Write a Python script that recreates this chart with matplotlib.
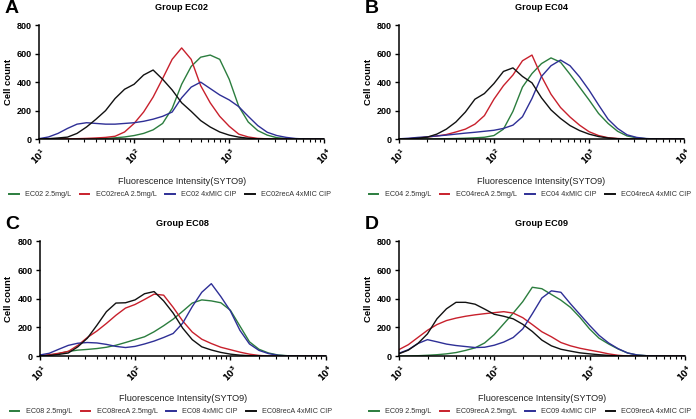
import numpy as np
import matplotlib
matplotlib.use('Agg')
import matplotlib.pyplot as plt

plt.rcParams['font.family'] = ['Liberation Sans', 'DejaVu Sans']
plt.rcParams['mathtext.default'] = 'bf'

# Ось X: log10 интенсивности флуоресценции
log_fl = [1.0, 1.1, 1.2, 1.3, 1.4, 1.5, 1.6, 1.7, 1.8, 1.9, 2.0,
          2.1, 2.2, 2.3, 2.4, 2.5, 2.6, 2.7, 2.8, 2.9, 3.0,
          3.1, 3.2, 3.3, 3.4, 3.5, 3.6, 3.7, 3.8, 3.9, 4.0]

groups = ['EC02', 'EC04', 'EC08', 'EC09']
letters = ['A', 'B', 'C', 'D']
x_ticks = [10, 100, 1000, 10000]
x_tick_labels = ['$10^{1}$', '$10^{2}$', '$10^{3}$', '$10^{4}$']
y_ticks = [0, 200, 400, 600, 800]

# Группа EC02
ec02_25 = [0, 0, 0, 0, 1, 2, 3, 5, 9, 15, 25, 40, 65, 110, 215, 385, 510, 575, 590, 560, 420, 230, 120, 60, 28, 10, 4, 1, 0, 0, 0]
ec02reca_25 = [0, 0, 1, 2, 3, 5, 8, 12, 20, 50, 110, 190, 295, 425, 560, 640, 560, 375, 255, 160, 90, 35, 15, 5, 2, 0, 0, 0, 0, 0, 0]
ec02_cip = [3, 15, 40, 75, 105, 115, 110, 105, 105, 110, 115, 125, 140, 160, 190, 290, 365, 400, 355, 310, 275, 228, 160, 95, 48, 25, 12, 4, 1, 0, 0]
ec02reca_cip = [0, 3, 8, 14, 40, 85, 140, 200, 285, 350, 385, 450, 485, 420, 345, 255, 195, 130, 85, 50, 28, 14, 6, 2, 0, 0, 0, 0, 0, 0, 0]

# Группа EC04
ec04_25 = [0, 0, 1, 1, 2, 3, 4, 6, 9, 13, 25, 70, 195, 365, 460, 530, 570, 540, 455, 365, 275, 180, 110, 55, 22, 9, 3, 1, 0, 0, 0]
ec04reca_25 = [0, 3, 8, 15, 22, 32, 50, 70, 105, 165, 280, 375, 450, 550, 590, 440, 315, 222, 155, 98, 52, 25, 10, 4, 1, 0, 0, 0, 0, 0, 0]
ec04_cip = [2, 6, 12, 16, 22, 28, 35, 42, 48, 55, 62, 75, 98, 157, 285, 440, 515, 555, 515, 437, 344, 240, 140, 75, 30, 12, 4, 1, 0, 0, 0]
ec04reca_cip = [0, 2, 6, 14, 35, 70, 120, 190, 280, 320, 390, 475, 500, 440, 395, 290, 205, 145, 95, 60, 35, 18, 8, 3, 1, 0, 0, 0, 0, 0, 0]

# Группа EC08
ec08_25 = [0, 5, 18, 33, 42, 47, 53, 62, 76, 95, 115, 135, 170, 212, 258, 313, 370, 392, 385, 372, 320, 210, 100, 48, 22, 8, 3, 1, 0, 0, 0]
ec08reca_25 = [3, 10, 20, 33, 75, 130, 175, 228, 285, 335, 360, 395, 432, 425, 340, 245, 168, 118, 88, 62, 45, 28, 14, 5, 1, 0, 0, 0, 0, 0, 0]
ec08_cip = [8, 20, 48, 75, 90, 95, 92, 82, 68, 60, 68, 85, 105, 130, 158, 230, 345, 445, 505, 415, 315, 180, 85, 40, 18, 6, 2, 0, 0, 0, 0]
ec08reca_cip = [2, 5, 12, 22, 65, 125, 215, 310, 370, 372, 392, 435, 450, 385, 300, 195, 115, 65, 43, 26, 14, 7, 3, 1, 0, 0, 0, 0, 0, 0, 0]

# Группа EC09
ec09_25 = [0, 1, 3, 6, 10, 16, 25, 40, 58, 92, 150, 225, 300, 380, 480, 470, 430, 390, 340, 270, 190, 125, 85, 50, 22, 8, 3, 1, 0, 0, 0]
ec09reca_25 = [45, 80, 130, 180, 220, 248, 265, 278, 288, 296, 303, 310, 300, 268, 220, 170, 135, 95, 72, 55, 42, 30, 16, 6, 1, 0, 0, 0, 0, 0, 0]
ec09_cip = [20, 45, 88, 115, 100, 84, 74, 67, 60, 62, 76, 98, 130, 190, 295, 405, 455, 445, 365, 290, 215, 145, 92, 52, 22, 8, 3, 1, 0, 0, 0]
ec09reca_cip = [16, 42, 88, 155, 260, 330, 375, 375, 362, 328, 292, 278, 260, 222, 172, 112, 72, 48, 35, 23, 16, 10, 5, 2, 0, 0, 0, 0, 0, 0, 0]

series = {
    'EC02': [ec02_25, ec02reca_25, ec02_cip, ec02reca_cip],
    'EC04': [ec04_25, ec04reca_25, ec04_cip, ec04reca_cip],
    'EC08': [ec08_25, ec08reca_25, ec08_cip, ec08reca_cip],
    'EC09': [ec09_25, ec09reca_25, ec09_cip, ec09reca_cip],
}
suffixes = [' 2.5mg/L', 'recA 2.5mg/L', ' 4xMIC CIP', 'recA 4xMIC CIP']
colors = ['#2b7d3e', '#c8202c', '#2e2f96', '#111111']

# Положение осей (left, bottom, width, height)
positions = [
    [0.056, 0.668, 0.410, 0.272],
    [0.573, 0.668, 0.410, 0.272],
    [0.057, 0.150, 0.411, 0.274],
    [0.573, 0.150, 0.411, 0.274],
]

fig = plt.figure(figsize=(6.96, 4.19), dpi=100)
x = 10 ** np.array(log_fl)

for i, g in enumerate(groups):
    ax = fig.add_axes(positions[i])
    for values, suffix, color in zip(series[g], suffixes, colors):
        ax.plot(x, values, color=color, lw=1.0, label=g + suffix)

    ax.set_xscale('log')
    ax.set_xlim(10, 10000)
    ax.set_ylim(0, 800)
    ax.set_xticks(x_ticks)
    ax.set_xticklabels(x_tick_labels, rotation=45, fontsize=6)
    ax.set_yticks(y_ticks)
    ax.set_yticklabels([str(v) for v in y_ticks], fontsize=6.5, fontweight='bold')
    ax.tick_params(axis='both', which='major', length=3, width=1, direction='out', pad=2)
    ax.tick_params(axis='x', which='minor', length=2, width=0.8)

    for side in ['top', 'right']:
        ax.spines[side].set_visible(False)
    for side in ['left', 'bottom']:
        ax.spines[side].set_linewidth(1.1)

    ax.set_title('Group ' + g, fontsize=6.6, fontweight='bold', pad=11)
    ax.set_ylabel('Cell count', fontsize=6.8, fontweight='bold', labelpad=3)
    ax.set_xlabel('Fluorescence Intensity(SYTO9)', fontsize=6.6, labelpad=7, color='#222222')
    ax.text(-0.12, 1.22, letters[i], transform=ax.transAxes, fontsize=14,
            fontweight='bold', va='top', ha='left')

    leg = ax.legend(loc='upper center', bbox_to_anchor=(0.46, -0.43), ncol=4,
                    frameon=False, fontsize=5.2, handlelength=1.3, columnspacing=1.2,
                    handletextpad=0.9, borderaxespad=0)
    for t in leg.get_texts():
        t.set_color('#333333')
    for h in leg.get_lines():
        h.set_linewidth(1.4)

fig.savefig('out.png', dpi=100)
